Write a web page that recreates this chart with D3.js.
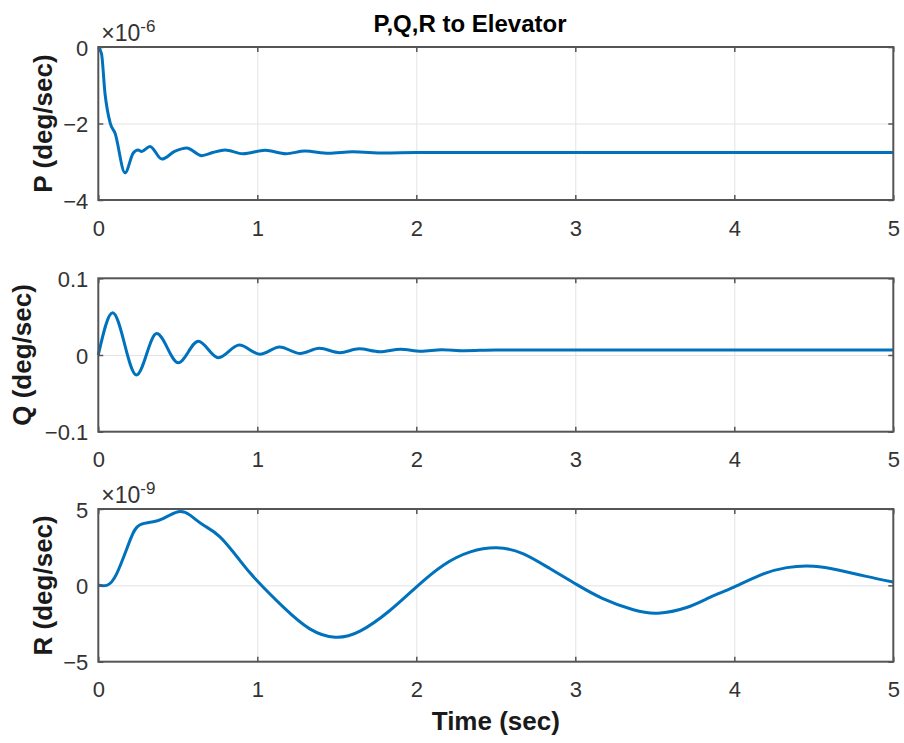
<!DOCTYPE html>
<html>
<head>
<meta charset="utf-8">
<script src="https://cdn.jsdelivr.net/npm/d3@7"></script>
<style>
  html, body { margin: 0; padding: 0; background: #fff; }
  svg { display: block; font-family: "Liberation Sans", Arial, Helvetica, sans-serif; }
</style>
</head>
<body>
<svg id="chart" width="904" height="743"></svg>
<script>
// ---- data ----
const chartTitle = "P,Q,R to Elevator";
const xLabel = "Time (sec)";
const xTicks = [0, 1, 2, 3, 4, 5];

// P (deg/sec), values in units of 1e-6
const pTime   = [0, 0.02, 0.042, 0.075, 0.105, 0.168, 0.22, 0.25, 0.273, 0.325, 0.4, 0.48, 0.556, 0.65, 0.72, 0.797, 0.91, 1.05, 1.18, 1.3, 1.45, 1.6, 1.8, 2.0, 2.5, 3.0, 4.0, 5.0];
const pValues = [0, -0.17, -1.21, -1.99, -2.25, -3.29, -2.77, -2.69, -2.73, -2.6, -2.93, -2.73, -2.64, -2.84, -2.76, -2.69, -2.79, -2.70, -2.79, -2.72, -2.78, -2.74, -2.77, -2.76, -2.76, -2.76, -2.76, -2.76];
const pTicks  = [0, -2, -4];

// Q (deg/sec)
const qTime   = [0, 0.09, 0.24, 0.367, 0.503, 0.629, 0.755, 0.887, 1.017, 1.14, 1.27, 1.39, 1.52, 1.64, 1.77, 1.9, 2.03, 2.16, 2.3, 2.5, 3.0, 4.0, 5.0];
const qValues = [0, 0.055, -0.026, 0.028, -0.010, 0.018, -0.0035, 0.013, 0.001, 0.0104, 0.002, 0.0087, 0.003, 0.008, 0.0042, 0.0075, 0.005, 0.007, 0.0057, 0.0065, 0.0065, 0.0065, 0.0065];
const qTicks  = [0.1, 0, -0.1];

// R (deg/sec), values in units of 1e-9
const rTime   = [0, 0.053, 0.116, 0.2, 0.26, 0.346, 0.41, 0.503, 0.577, 0.66, 0.765, 0.89, 0.996, 1.164, 1.33, 1.49, 1.646, 1.83, 2.0, 2.17, 2.34, 2.506, 2.67, 2.84, 3.0, 3.17, 3.365, 3.52, 3.70, 3.85, 3.99, 4.16, 4.33, 4.50, 4.66, 4.83, 5.0];
const rValues = [0, 0, 0.77, 2.96, 3.95, 4.17, 4.39, 4.82, 4.6, 3.95, 3.18, 1.64, 0.33, -1.43, -2.85, -3.40, -3.0, -1.68, -0.11, 1.32, 2.19, 2.46, 2.08, 1.1, 0.11, -0.85, -1.6, -1.82, -1.45, -0.77, -0.15, 0.66, 1.16, 1.25, 0.99, 0.59, 0.22];
const rTicks  = [5, 0, -5];

const panelLabels = ["P (deg/sec)", "Q (deg/sec)", "R (deg/sec)"];
const panelExponents = ["-6", null, "-9"];

// ---- layout ----
const svg = d3.select("#chart");
const left = 98.3, right = 893.3;
const panels = [
  { time: pTime, values: pValues, ticks: pTicks, domain: [-4, 0], top: 47, bottom: 200, label: panelLabels[0], exp: panelExponents[0], labelX: 52, curve: d3.curveMonotoneX, fmt: d => d3.format("d")(d) },
  { time: qTime, values: qValues, ticks: qTicks, domain: [-0.1, 0.1], top: 278.3, bottom: 431.7, label: panelLabels[1], exp: panelExponents[1], labelX: 31, curve: d3.curveMonotoneX, fmt: d => d === 0 ? "0" : d3.format(".1f")(d) },
  { time: rTime, values: rValues, ticks: rTicks, domain: [-5, 5], top: 509, bottom: 661.7, label: panelLabels[2], exp: panelExponents[2], labelX: 52, curve: d3.curveNatural, fmt: d => d3.format("d")(d) }
];

const x = d3.scaleLinear().domain([0, 5]).range([left, right]);
const textColor = "#333";
const axisColor = "#555";
const gridColor = "#e3e3e3";
const lineColor = "#0072BD";

panels.forEach(p => {
  const y = d3.scaleLinear().domain(p.domain).range([p.bottom, p.top]);
  const h = p.bottom - p.top;
  const g = svg.append("g");

  // grid lines
  g.append("g")
    .attr("transform", `translate(0,${p.bottom})`)
    .call(d3.axisBottom(x).tickValues(xTicks.slice(1, -1)).tickSize(-h).tickFormat(""))
    .call(s => s.select(".domain").remove())
    .call(s => s.selectAll("line").attr("stroke", gridColor).attr("stroke-width", 1));
  g.append("g")
    .attr("transform", `translate(${left},0)`)
    .call(d3.axisLeft(y).tickValues(p.ticks.filter(t => t !== p.domain[0] && t !== p.domain[1])).tickSize(-(right - left)).tickFormat(""))
    .call(s => s.select(".domain").remove())
    .call(s => s.selectAll("line").attr("stroke", gridColor).attr("stroke-width", 1));

  // data line
  const line = d3.line()
    .x((d, i) => x(p.time[i]))
    .y(d => y(d))
    .curve(p.curve);
  g.append("path")
    .datum(p.values)
    .attr("fill", "none")
    .attr("stroke", lineColor)
    .attr("stroke-width", 3)
    .attr("stroke-linejoin", "round")
    .attr("d", line);

  // box
  g.append("rect")
    .attr("x", left).attr("y", p.top)
    .attr("width", right - left).attr("height", h)
    .attr("fill", "none").attr("stroke", axisColor).attr("stroke-width", 2);

  // bottom axis (ticks inside, labels below)
  const xb = g.append("g")
    .attr("transform", `translate(0,${p.bottom})`)
    .call(d3.axisBottom(x).tickValues(xTicks).tickSize(-5).tickPadding(20).tickFormat(d3.format("d")));
  // top ticks
  const xt = g.append("g")
    .attr("transform", `translate(0,${p.top})`)
    .call(d3.axisTop(x).tickValues(xTicks).tickSize(-5).tickFormat(""));
  // left axis
  const yl = g.append("g")
    .attr("transform", `translate(${left},0)`)
    .call(d3.axisLeft(y).tickValues(p.ticks).tickSize(-5).tickPadding(10).tickFormat(p.fmt));
  // right ticks
  const yr = g.append("g")
    .attr("transform", `translate(${right},0)`)
    .call(d3.axisRight(y).tickValues(p.ticks).tickSize(-5).tickFormat(""));

  [xb, xt, yl, yr].forEach(a => {
    a.select(".domain").remove();
    a.selectAll("line").attr("stroke", axisColor).attr("stroke-width", 1.5);
    a.selectAll("text").attr("fill", textColor).style("font-size", "22px").attr("font-family", null);
  });
  yl.selectAll("text").attr("dy", "0.37em");

  // y label
  g.append("text")
    .attr("transform", `translate(${p.labelX},${(p.top + p.bottom) / 2}) rotate(-90)`)
    .attr("text-anchor", "middle")
    .attr("fill", "#1a1a1a")
    .style("font-size", "26px")
    .style("font-weight", "bold")
    .text(p.label);

  // exponent
  if (p.exp) {
    const e = g.append("text")
      .attr("x", left + 3).attr("y", p.top - 6)
      .attr("fill", textColor)
      .style("font-size", "23px");
    e.append("tspan").text("\u00d710");
    e.append("tspan").attr("dy", -9).style("font-size", "17px").text(p.exp);
  }
});

// title
svg.append("text")
  .attr("x", 470).attr("y", 32)
  .attr("text-anchor", "middle")
  .attr("fill", "#000")
  .style("font-size", "24px")
  .style("font-weight", "bold")
  .text(chartTitle);

// x label
svg.append("text")
  .attr("x", (left + right) / 2).attr("y", 730)
  .attr("text-anchor", "middle")
  .attr("fill", "#1a1a1a")
  .style("font-size", "26px")
  .style("font-weight", "bold")
  .text(xLabel);
</script>
</body>
</html>
